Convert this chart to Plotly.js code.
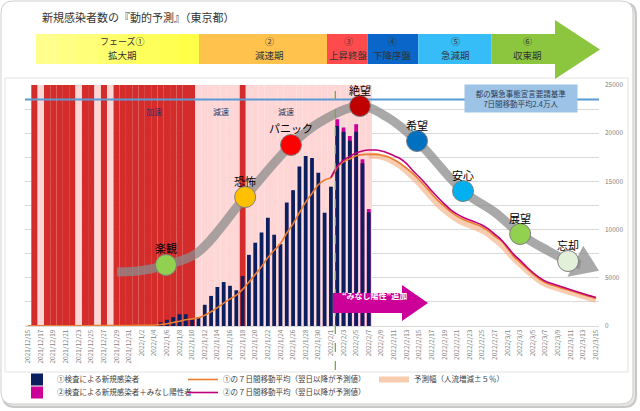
<!DOCTYPE html>
<html><head><meta charset="utf-8">
<script src="https://cdn.plot.ly/plotly-3.0.1.min.js"></script>
<style>html,body{margin:0;padding:0;background:#fff;}#chart{width:640px;height:411px;}</style>
</head><body><div id="chart"></div>
<script>
// ---------------- data ----------------
const tickLabels = ['2021/12/15','2021/12/17','2021/12/19','2021/12/21','2021/12/23','2021/12/25','2021/12/27','2021/12/29','2021/12/31',
 '2022/1/2','2022/1/4','2022/1/6','2022/1/8','2022/1/10','2022/1/12','2022/1/14','2022/1/16','2022/1/18','2022/1/20','2022/1/22','2022/1/24','2022/1/26','2022/1/28','2022/1/30',
 '2022/2/1','2022/2/3','2022/2/5','2022/2/7','2022/2/9','2022/2/11','2022/2/13','2022/2/15','2022/2/17','2022/2/19','2022/2/21','2022/2/23','2022/2/25','2022/2/27',
 '2022/3/1','2022/3/3','2022/3/5','2022/3/7','2022/3/9','2022/3/11','2022/3/13','2022/3/15'];
const nDays = 91; // 2021/12/15 .. 2022/3/15
const yTickVals = [0,5000,10000,15000,20000,25000];
const yTickText = ['0','5000','10000','15000','20000','25000'];

// ① new cases by testing (days 0..54)
const casesTest = [21,21,30,17,22,12,22,25,31,37,37,50,27,46,76,64,78,
 79,84,103,151,390,640,920,1220,1220,800,900,2200,3120,4050,4560,4170,3710,5180,7380,8640,9700,11230,9470,8500,
 12810,14090,16540,17630,17430,15900,11750,14450,20750,20150,19220,20150,16870,11790];
// ② testing + deemed positive (total), days 49..54
const casesTotalStart = 49;
const casesTotal = [21440,20600,19710,20920,17290,12140];

// ① 7-day moving average (prediction after 2/7), days 0..90
const ma1 = [20,20,21,22,22,23,24,26,28,30,33,35,37,40,44,48,55,
 60,65,75,95,150,240,360,500,640,740,860,1120,1480,1900,2380,2800,3200,3800,4550,5350,6150,7100,7850,8550,
 9650,10600,11750,12850,13750,14650,15150,15400,16450,17050,17350,17650,17780,17800,
 17800,17720,17550,17250,16850,16350,15800,15150,14450,13700,13000,12400,11850,11400,11050,10800,10550,10250,9850,9300,
 8850,8050,7200,6600,6000,5400,4900,4500,4250,4050,3850,3650,3450,3250,3050,2850];
// ② 7-day moving average, days 48..90
const ma2Start = 48;
const ma2 = [15400,16550,17200,17600,17950,18150,18250,18250,18150,17950,17650,17350,16850,16100,15450,14750,14000,13300,12650,
 12050,11600,11250,11000,10750,10450,10050,9500,8950,8200,7400,6800,6150,5550,5050,4650,4400,4200,3980,3770,3560,3350,3150,2950];
// prediction range (±5% mobility), days 54..90
const bandStart = 54;
const predBand = [17650,17650,17550,17350,17000,16600,16050,15450,14800,14050,13300,12600,12000,11500,11050,10700,10450,10200,9900,
 9500,8950,8450,7750,7000,6400,5800,5250,4750,4350,4100,3900,3700,3500,3300,3100,2900,2700];

// acceleration (R) / deceleration (P) background, run-length per day from 12/15
const accelRuns = [['-',1],['R',1],['P',1],['R',5],['P',1],['R',2],['P',1],['R',1],['P',1],['R',13],['P',7],['R',1],['P',20]];
const bandTop = 25000;
const accelNotes = [{d:19.9,t:'加速'},{d:30.6,t:'減速'},{d:40.8,t:'減速'}];

// emergency declaration threshold
const thresholdValue = 23500;
const thresholdText = '都の緊急事態宣言要請基準<br>7日間移動平均2.4万人';
const deemedDay = 48.7;

// emotion trend curve
const emotionLabels = ['楽観','恐怖','パニック','絶望','希望','安心','展望','忘却'];
const emotionDay   = [21.85,34.4,41.67,52.6,61.65,68.94,78.0,85.6];
const emotionValue = [6330,13380,18780,22820,19190,14000,9540,6740];
const emotionColors = ['#92D050','#FFC000','#FF0000','#C00000','#0070C0','#00B0F0','#92D050','#E2F0D9'];
const trendDay   = [14.1,18.0,21.85,26.7,34.4,41.67,46.3,52.6,56.8,61.65,68.94,74.2,78.0,82.2,85.6,87.6];
const trendValue = [5600,5750,6330,7540,13380,18780,21160,22820,21710,19190,14000,11690,9540,7880,6740,6350];
const arrowDay   = [88.0,90.5,85.5,88.0];
const arrowValue = [8330,5740,5110,8330];

// phases
const phaseTop  = ['フェーズ①','②','③','④','⑤','⑥'];
const phaseName = ['拡大期','減速期','上昇終盤','下降序盤','急減期','収束期'];
const phaseColors = ['#FFFF55','#FFC24D','#FF4B4B','#0A66C8','#36BDF7','#8CC63F'];
const yellowGradient = ['#FFFF8E','#FFFF84','#FFFF7A','#FFFF70','#FFFF66','#FFFF5C','#FFFF52','#FFFF48'];

// legend names
const nameTest = '①検査による新規感染者';
const nameTotal = '②検査による新規感染者＋みなし陽性者';
const nameMa1 = '①の７日間移動平均（翌日以降が予測値）';
const nameMa2 = '②の７日間移動平均（翌日以降が予測値）';
const nameBand = '予測幅（人流増減±５％）';

// ---------------- geometry helpers ----------------
const W=640,H=411,L=25,R=41,T=85,B=85,PW=W-L-R,PH=H-T-B;
const px = x => (x-L)/PW;
const py = y => (H-B-y)/PH;
const poly = pts => 'M' + pts.map(p => px(p[0]).toFixed(5)+','+py(p[1]).toFixed(5)).join(' L') + ' Z';
function roundRect(x0,y0,x1,y1,r){
  const P=(x,y)=>px(x).toFixed(5)+','+py(y).toFixed(5);
  return 'M'+P(x0+r,y0)+' L'+P(x1-r,y0)+' Q'+P(x1,y0)+' '+P(x1,y0+r)+' L'+P(x1,y1-r)+' Q'+P(x1,y1)+' '+P(x1-r,y1)+
    ' L'+P(x0+r,y1)+' Q'+P(x0,y1)+' '+P(x0,y1-r)+' L'+P(x0,y0+r)+' Q'+P(x0,y0)+' '+P(x0+r,y0)+' Z';
}

// ---------------- derived arrays ----------------
const days = Array.from({length:nDays},(_,i)=>i);
const accel = [];
accelRuns.forEach(([k,n])=>{for(let i=0;i<n;i++) accel.push(k);});
while(accel.length<nDays) accel.push('-');
const redY = accel.map(k=>k==='R'?bandTop:null);
const pinkY = accel.map(k=>k==='P'?bandTop:null);
const pad = (start,arr)=>days.map(d=>(d>=start && d-start<arr.length)?arr[d-start]:null);
const testY = pad(0,casesTest);
const totalY = pad(casesTotalStart,casesTotal);
const ma2Y = pad(ma2Start,ma2);
const bandY = pad(bandStart,predBand);
const tickVals = tickLabels.map((_,i)=>i*2);

const font = '"Noto Sans CJK JP", "Noto Sans", sans-serif';

const traces = [
 {type:'bar',x:days,y:redY,width:1,marker:{color:'#D42B2B',line:{width:0}},showlegend:false,hoverinfo:'skip'},
 {type:'bar',x:days,y:pinkY,width:1,marker:{color:'#FFD6D6',line:{width:0}},showlegend:false,hoverinfo:'skip'},
 {type:'bar',x:days,y:totalY,width:0.6,name:nameTotal,marker:{color:'#CC0099',line:{width:0}},legend:'legend2',hoverinfo:'skip'},
 {type:'bar',x:days,y:testY,width:0.6,name:nameTest,marker:{color:'#0B1F5E',line:{width:0}},legend:'legend',hoverinfo:'skip'},
 {type:'scatter',mode:'lines',x:[-0.5,90.5],y:[thresholdValue,thresholdValue],line:{color:'#5B9BD5',width:2},showlegend:false,hoverinfo:'skip'},
 {type:'scatter',mode:'lines',x:days,y:bandY,name:nameBand,line:{color:'rgba(244,177,131,0.65)',width:6,shape:'spline'},legend:'legend5',hoverinfo:'skip'},
 {type:'scatter',mode:'lines',x:days,y:ma1,name:nameMa1,line:{color:'#ED7D31',width:1.6,shape:'spline'},legend:'legend3',hoverinfo:'skip'},
 {type:'scatter',mode:'lines',x:days,y:ma2Y,name:nameMa2,line:{color:'#C0007A',width:1.6,shape:'spline'},legend:'legend4',hoverinfo:'skip'},
 {type:'scatter',mode:'lines',x:trendDay,y:trendValue,line:{color:'rgba(140,140,140,0.75)',width:9,shape:'spline',smoothing:1},showlegend:false,hoverinfo:'skip'},
 {type:'scatter',mode:'none',x:arrowDay,y:arrowValue,fill:'toself',fillcolor:'rgba(140,140,140,0.75)',showlegend:false,hoverinfo:'skip'},
 {type:'scatter',mode:'markers',x:emotionDay,y:emotionValue,cliponaxis:false,
  marker:{size:21,color:emotionColors,line:{color:'#7F7F7F',width:1}},showlegend:false,hoverinfo:'skip'}
];

// ---------------- shapes ----------------
const shapes = [];
shapes.push({type:'path',xref:'paper',yref:'paper',path:roundRect(3,3,636,407,12),line:{color:'#C8C8C8',width:2},fillcolor:'#E8E4DE',layer:'below'});
shapes.push({type:'path',xref:'paper',yref:'paper',path:roundRect(1,1,633,404,12),line:{color:'#CFCFCF',width:1},fillcolor:'#FFFFFF',layer:'below'});
shapes.push({type:'rect',xref:'paper',yref:'paper',x0:px(5),x1:px(628),y0:py(372),y1:py(78),line:{color:'#E3E3E3',width:1},fillcolor:'#FFFFFF',layer:'below'});
// phase arrow
const segX = [36,199,327,367.7,418.3,491.7,555];
const gN = yellowGradient.length, gw = (segX[1]-segX[0])/gN;
yellowGradient.forEach((c,k)=>{
  shapes.push({type:'rect',xref:'paper',yref:'paper',x0:px(segX[0]+k*gw),x1:px(segX[0]+(k+1)*gw+0.5),y0:py(64),y1:py(34),line:{width:0},fillcolor:c});
});
for(let i=1;i<5;i++){
  shapes.push({type:'rect',xref:'paper',yref:'paper',x0:px(segX[i]),x1:px(segX[i+1]),y0:py(64),y1:py(34),line:{width:0},fillcolor:phaseColors[i]});
}
shapes.push({type:'path',xref:'paper',yref:'paper',path:poly([[491.7,34],[555,34],[555,20],[600,49.5],[555,79],[555,64],[491.7,64]]),line:{width:0},fillcolor:phaseColors[5]});
shapes.push({type:'line',xref:'x',yref:'paper',x0:deemedDay,x1:deemedDay,y0:py(370),y1:1,line:{color:'#70AD47',width:1.3,dash:'dash'},layer:'above'});
shapes.push({type:'path',xref:'paper',yref:'paper',path:poly([[333,293],[402,293],[402,285],[428,303],[402,321],[402,313],[333,313]]),line:{width:0},fillcolor:'#CC0099',layer:'above'});

// ---------------- annotations ----------------
const annotations = [];
const phaseCx = [122,269,348,392,455,527];
for(let i=0;i<6;i++){
  annotations.push({xref:'paper',yref:'paper',x:px(phaseCx[i]),y:py(41.6),text:phaseTop[i],showarrow:false,borderpad:0,
    font:{size:9,color:'#333',family:font},xanchor:'center',yanchor:'middle'});
  annotations.push({xref:'paper',yref:'paper',x:px(phaseCx[i]),y:py(55),text:phaseName[i],showarrow:false,borderpad:0,
    font:{size:9.5,color:'#333',family:font},xanchor:'center',yanchor:'middle'});
}
emotionLabels.forEach((t,i)=>annotations.push({xref:'x',yref:'y',x:emotionDay[i],y:emotionValue[i],yshift:16.5,text:t,showarrow:false,
  font:{size:11,color:'#000',family:font},xanchor:'center',yanchor:'middle'}));
accelNotes.forEach(n=>annotations.push({xref:'x',yref:'y',x:n.d,y:22300,text:n.t,showarrow:false,font:{size:8,color:'#203864',family:font}}));
annotations.push({xref:'x',yref:'y',x:78.13,y:23600,text:thresholdText,showarrow:false,bgcolor:'#9DC3E6',width:112,height:27,borderpad:0,
  font:{size:7.5,color:'#2F3B52',family:font},align:'center'});
annotations.push({xref:'paper',yref:'paper',x:px(374),y:py(303),text:'<b>“みなし陽性”追加</b>',showarrow:false,font:{size:8,color:'#FFFFFF',family:font}});

const legBase = {bgcolor:'rgba(0,0,0,0)',borderwidth:0,font:{size:7.5,color:'#404040',family:font},xanchor:'left',yanchor:'top',orientation:'v'};

const layout = {
  width:W,height:H,margin:{l:L,r:R,t:T,b:B,autoexpand:false},
  paper_bgcolor:'#FFFFFF',plot_bgcolor:'rgba(0,0,0,0)',
  font:{family:font,color:'#404040'},
  title:{text:'新規感染者数の『動的予測』（東京都）',xref:'container',yref:'container',x:42/640,xanchor:'left',y:1-18/411,yanchor:'middle',font:{size:11,color:'#333',family:font}},
  barmode:'overlay',
  showlegend:true,
  xaxis:{range:[-0.5,90.5],tickvals:tickVals,ticktext:tickLabels,tickangle:-90,tickfont:{size:6.5,color:'#7F7F7F'},
    showgrid:false,zeroline:false,showline:true,linecolor:'#D9D9D9',ticks:'',fixedrange:true},
  yaxis:{range:[0,25000],side:'right',tickvals:yTickVals,ticktext:yTickText,tickfont:{size:6.5,color:'#7F7F7F'},
    showgrid:true,gridcolor:'#D9D9D9',minor:{dtick:2500,showgrid:true,gridcolor:'#D9D9D9'},zeroline:false,showline:false,ticks:'',ticklabelstandoff:5},
  legend: Object.assign({},legBase,{x:px(17),y:py(365)}),
  legend2:Object.assign({},legBase,{x:px(17),y:py(378)}),
  legend3:Object.assign({},legBase,{x:px(183),y:py(365)}),
  legend4:Object.assign({},legBase,{x:px(183),y:py(378)}),
  legend5:Object.assign({},legBase,{x:px(374),y:py(365)}),
  shapes:shapes,annotations:annotations
};
Plotly.newPlot('chart',traces,layout,{staticPlot:true,displayModeBar:false});
</script>
</body></html>
